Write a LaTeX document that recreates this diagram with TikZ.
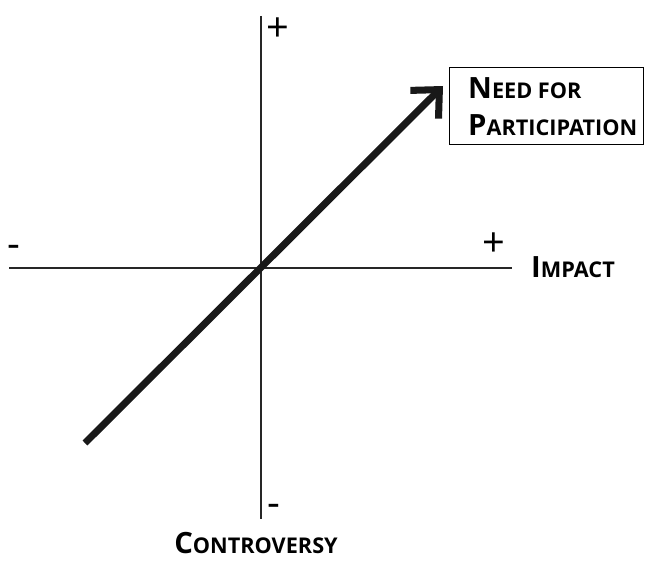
\documentclass[tikz,border=0pt]{standalone}
\usepackage{fontspec}
\setmainfont{Open Sans}
\setsansfont{Open Sans}
\usetikzlibrary{positioning, arrows.meta}

\newcommand{\capsc}[2]{{\fontsize{25}{30}\selectfont #1}{\fontsize{18.5}{30}\selectfont #2}}

\begin{document}
\begin{tikzpicture}[
	x=0.03cm, y=-0.03cm,
	axis/.style={line width=1.2pt, black!85},
	sign/.style={font=\fontsize{34}{34}\selectfont, inner sep=0pt},
	dashsign/.style={sign, anchor=north},
	label/.style={inner sep=0pt, anchor=base west, font=\bfseries},
	trend/.style={line width=6pt, black!90, -{Straight Barb[length=18pt, width=34pt]}, line join=miter},
	font=\sffamily
	]
	\useasboundingbox (0,0) rectangle (645,562);

	% axes
	\coordinate (origin) at (261,268);
	\coordinate (xleft) at (9,268);
	\coordinate (xright) at (512,268);
	\coordinate (ytop) at (261,16);
	\coordinate (ybottom) at (261,519);
	\draw[axis] (xleft) -- (xright);
	\draw[axis] (ytop) -- (ybottom);

	% signs
	\node[sign] (yplus) at (278,30) {+};
	\node[sign] (xplus) at (494,245) {+};
	\node[dashsign] (yminus) at (274,504) {-};
	\node[dashsign] (xminus) at (14,245) {-};

	% axis names
	\node[label] (impact) at (531,277) {\capsc{I}{MPACT}};
	\node[label, anchor=base] (contro) at (256,553) {\capsc{C}{ONTROVERSY}};

	% need box
	\node[draw, line width=1.2pt, anchor=north west, minimum width=5.82cm, minimum height=2.3cm] (need) at (449,67) {};
	\node[label] (needl1) at (468,99) {\capsc{N}{EED FOR}};
	\node[label] (needl2) at (468,135) {\capsc{P}{ARTICIPATION}};

	% trend arrow
	\coordinate (tail) at (85,443);
	\coordinate (tip) at (443,86);
	\draw[trend] (tail) -- (tip);

\end{tikzpicture}
\end{document}
